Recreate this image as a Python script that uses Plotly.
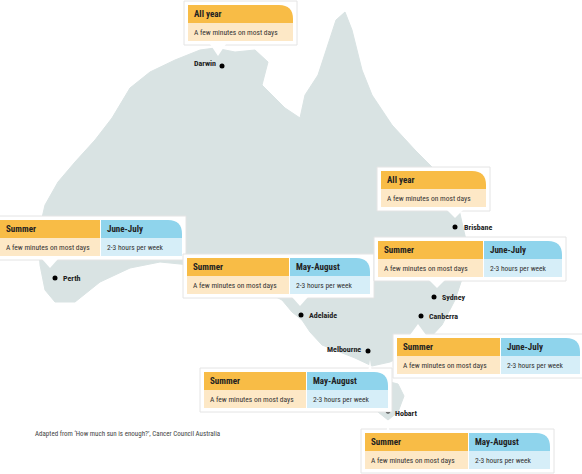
import plotly.graph_objects as go

# outline of the mainland and Tasmania in picture pixels
main_x = [130, 150, 175, 200, 215, 235, 255, 268, 262, 285, 300, 305, 318, 328, 336, 345, 352, 362, 372, 392, 415, 440, 458, 466, 465, 455, 442, 428, 410, 390, 372, 355, 340, 322, 310, 302, 292, 282, 262, 240, 215, 190, 160, 130, 100, 75, 55, 45, 40, 38, 45, 58, 75, 95, 112, 130]
main_y = [88, 72, 60, 50, 48, 52, 50, 62, 85, 108, 118, 95, 75, 45, 20, 12, 30, 70, 95, 125, 150, 175, 205, 240, 270, 300, 325, 340, 352, 362, 366, 358, 352, 345, 332, 320, 312, 300, 290, 283, 272, 265, 262, 268, 282, 302, 302, 290, 265, 235, 205, 182, 162, 140, 118, 88]
tas_x = [368, 382, 398, 404, 398, 388, 378, 370, 368]
tas_y = [382, 380, 384, 396, 412, 420, 412, 396, 382]

cities = ["Darwin", "Brisbane", "Perth", "Adelaide", "Sydney", "Canberra", "Melbourne", "Hobart"]
city_x = [222, 455, 55, 301, 434, 421, 368, 388]
city_y = [66, 227, 278, 315, 297, 316, 351, 411]
label_dx = [-30, 7, 6, 6, 6, 6, -43, 5]
label_dy = [-3, 0, 0, 0, 0, 0, -2, 2]

# callout boxes: left, top, split (None = single), right
box_x0 = [188, 381, 0, 187, 378, 397, 204, 365]
box_y0 = [5, 171, 220, 258, 241, 338, 372, 433]
box_split = [None, None, 100, 289, 483, 500, 306, 468]
box_x1 = [293, 486, 182, 370, 562, 580, 388, 550]
tip_x = [218, 455, 50, 300, 437, 418, 370, 388]
tip_y = [56, 218, 268, 306, 288, 324, 360, 422]
tip_up = [False, False, False, False, False, True, False, False]
head_left = ["All year", "All year", "Summer", "Summer", "Summer", "Summer", "Summer", "Summer"]
body_left = ["A few minutes on most days"] * 8
head_right = [None, None, "June-July", "May-August", "June-July", "June-July", "May-August", "May-August"]
body_right = [None, None] + ["2-3 hours per week"] * 6

ORANGE, LORANGE = "#F8BC46", "#FDE8C6"
BLUE, LBLUE = "#8FD4EC", "#D6EEF8"
FONT = "Roboto Condensed, Liberation Sans Narrow, Arial Narrow, Roboto"

fig = go.Figure()
fig.add_trace(go.Scatter(x=main_x, y=main_y, fill="toself", fillcolor="#D9E3E3",
                         line=dict(color="#D9E3E3", width=1), mode="lines", hoverinfo="skip"))
fig.add_trace(go.Scatter(x=tas_x, y=tas_y, fill="toself", fillcolor="#D9E3E3",
                         line=dict(color="#D9E3E3", width=1), mode="lines", hoverinfo="skip"))
fig.add_trace(go.Scatter(x=city_x, y=city_y, mode="markers",
                         marker=dict(color="black", size=5), hoverinfo="skip"))

shapes = []
ann = []
for i, c in enumerate(cities):
    ann.append(dict(x=city_x[i] + label_dx[i], y=city_y[i] + label_dy[i], text="<b>%s</b>" % c,
                    xanchor="left", showarrow=False, font=dict(size=8, color="#222", family=FONT)))


def rounded(x0, y0, x1, y1, r):
    return f"M{x0},{y0} L{x1 - r},{y0} Q{x1},{y0} {x1},{y0 + r} L{x1},{y1} L{x0},{y1} Z"


for i in range(len(box_x0)):
    x0, y0, x1 = box_x0[i], box_y0[i], box_x1[i]
    ym, y1 = y0 + 18, y0 + 36
    by = y0 - 3 if tip_up[i] else y1 + 3
    shapes.append(dict(type="rect", x0=x0 - 4, x1=x1 + 4, y0=y0 - 4, y1=y1 + 4, fillcolor="white",
                       line=dict(color="#E4E4E4", width=1)))
    tx = tip_x[i]
    shapes.append(dict(type="path", path=f"M{tx - 8},{by} L{tx + 8},{by} L{tx},{tip_y[i]} Z",
                       fillcolor="white", line=dict(width=0)))
    xs = box_split[i] if box_split[i] else x1
    if box_split[i]:
        shapes.append(dict(type="rect", x0=x0, x1=xs, y0=y0, y1=ym, fillcolor=ORANGE, line=dict(width=0)))
    else:
        shapes.append(dict(type="path", path=rounded(x0, y0, xs, ym, 14), fillcolor=ORANGE, line=dict(width=0)))
    shapes.append(dict(type="rect", x0=x0, x1=xs, y0=ym, y1=y1, fillcolor=LORANGE, line=dict(width=0)))
    ann.append(dict(x=x0 + 4, y=(y0 + ym) / 2, text="<b>%s</b>" % head_left[i], xanchor="left",
                    showarrow=False, font=dict(size=9, color="#222", family=FONT)))
    ann.append(dict(x=x0 + 4, y=(ym + y1) / 2, text=body_left[i], xanchor="left",
                    showarrow=False, font=dict(size=7.5, color="#333", family=FONT)))
    if box_split[i]:
        shapes.append(dict(type="path", path=rounded(xs + 1, y0, x1, ym, 14), fillcolor=BLUE, line=dict(width=0)))
        shapes.append(dict(type="rect", x0=xs + 1, x1=x1, y0=ym, y1=y1, fillcolor=LBLUE, line=dict(width=0)))
        ann.append(dict(x=xs + 5, y=(y0 + ym) / 2, text="<b>%s</b>" % head_right[i], xanchor="left",
                        showarrow=False, font=dict(size=9, color="#222", family=FONT)))
        ann.append(dict(x=xs + 5, y=(ym + y1) / 2, text=body_right[i], xanchor="left",
                        showarrow=False, font=dict(size=7.5, color="#333", family=FONT)))

ann.append(dict(x=33, y=434, text="Adapted from \u2018How much sun is enough?\u2019, Cancer Council Australia",
                xanchor="left", showarrow=False, font=dict(size=7, color="#444", family=FONT)))

fig.update_layout(width=582, height=474, margin=dict(l=0, r=0, t=0, b=0),
                  paper_bgcolor="white", plot_bgcolor="white", showlegend=False,
                  xaxis=dict(range=[0, 582], visible=False, fixedrange=True),
                  yaxis=dict(range=[474, 0], visible=False, fixedrange=True),
                  shapes=shapes, annotations=ann)
fig.write_html("out.html", config={"displayModeBar": False},
               post_script="document.body.style.margin='0';document.body.style.overflow='hidden';")
